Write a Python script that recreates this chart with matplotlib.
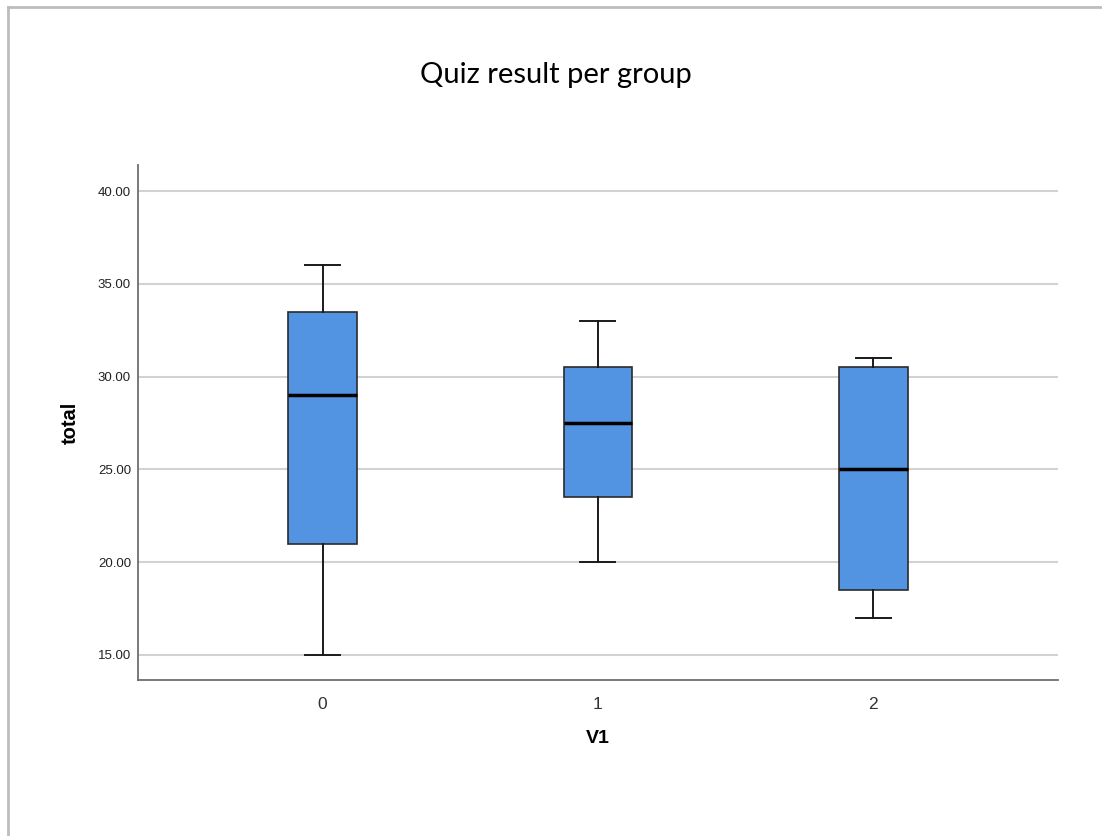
import matplotlib
matplotlib.use("Agg")
import matplotlib.pyplot as plt
from matplotlib.lines import Line2D

# five-number summaries (whisker low, Q1, median, Q3, whisker high)
groups = ["0", "1", "2"]
whislo = [15.0, 20.0, 17.0]
q1 = [21.0, 23.5, 18.5]
med = [29.0, 27.5, 25.0]
q3 = [33.5, 30.5, 30.5]
whishi = [36.0, 33.0, 31.0]

yticks = [15, 20, 25, 30, 35, 40]

stats = [
    {"label": g, "whislo": lo, "q1": a, "med": m, "q3": b, "whishi": hi, "fliers": []}
    for g, lo, a, m, b, hi in zip(groups, whislo, q1, med, q3, whishi)
]

fig = plt.figure(figsize=(11.02, 8.36), dpi=100)
ax = fig.add_axes([0.1252, 0.1866, 0.8348, 0.6160])

ax.bxp(
    stats,
    positions=range(len(groups)),
    widths=0.25,
    patch_artist=True,
    showfliers=False,
    boxprops=dict(facecolor="#5294e2", edgecolor="#2b2b2b", linewidth=1.2),
    medianprops=dict(color="black", linewidth=2.5),
    whiskerprops=dict(color="#1a1a1a", linewidth=1.4),
    capprops=dict(color="#1a1a1a", linewidth=1.4),
    capwidths=0.127,
    zorder=3,
)

ax.set_xlim(-0.67, 2.67)
ax.set_ylim(13.65, 41.4)
ax.set_yticks(yticks)
ax.set_yticklabels([f"{v:.2f}" for v in yticks], fontsize=9.5, family="Liberation Sans", color="#222222")
ax.set_xticks(range(len(groups)))
ax.set_xticklabels(groups, fontsize=12.5, family="Liberation Sans", color="#333333")
ax.tick_params(axis="both", length=0)
ax.tick_params(axis="y", pad=5)
ax.tick_params(axis="x", pad=12)

ax.yaxis.grid(True, color="#d2d2d2", linewidth=1.5, zorder=0)
ax.set_axisbelow(True)

for side in ["top", "right"]:
    ax.spines[side].set_visible(False)
for side in ["left", "bottom"]:
    ax.spines[side].set_color("#6e6e6e")
    ax.spines[side].set_linewidth(1.3)

ax.set_ylabel("total", fontsize=14.5, fontweight="bold", family="Liberation Sans", labelpad=13)
ax.set_xlabel("V1", fontsize=14, fontweight="bold", family="Liberation Sans", labelpad=13)

fig.text(0.504, 0.910, "Quiz result per group", ha="center", va="center", fontsize=21, family="Lato", color="black")

# outer frame (top and left edges visible in the reference)
fig.add_artist(Line2D([0.0077, 1.0], [0.9922, 0.9922], transform=fig.transFigure, color="#bdbdbd", linewidth=2))
fig.add_artist(Line2D([0.0077, 0.0077], [0.0, 0.9922], transform=fig.transFigure, color="#bdbdbd", linewidth=2))

fig.savefig("out.png", dpi=100)
